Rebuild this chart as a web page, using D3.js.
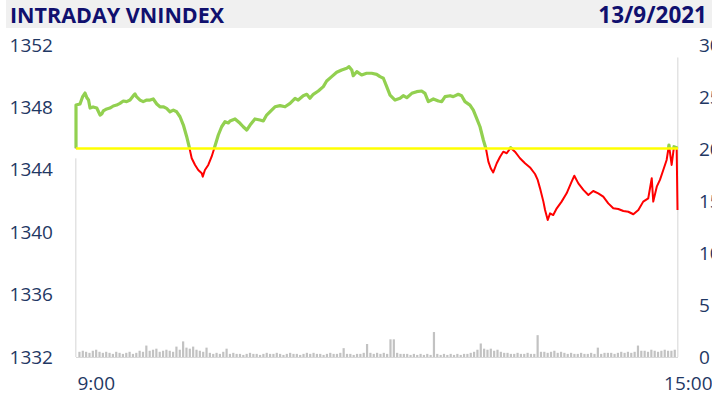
<!DOCTYPE html>
<html>
<head>
<meta charset="utf-8">
<script src="https://cdn.jsdelivr.net/npm/d3@7"></script>
<style>
  body { margin: 0; background: #fff; }
</style>
</head>
<body>
<div id="chart"></div>
<script>
var width = 712;
var height = 401;

var titleText = "INTRADAY VNINDEX";
var dateText = "13/9/2021";
var refClose = 1345.37;

var priceTicks = [1332, 1336, 1340, 1344, 1348, 1352];
var volTicks = [0, 5, 10, 15, 20, 25, 30];
var timeTicks = [0, 360];
var timeLabels = ["9:00", "15:00"];

// minutes after 9:00 on the chart axis
var tMin = [
  0, 0, 2.4, 3.9, 5.4, 6.6, 7.5, 8.4, 10.2, 12.4,
  14.4, 15.4, 16.3, 18.4, 20.3, 22.3, 24.3, 26.3, 28.3, 30.3,
  32.3, 34.3, 35.3, 36.3, 38.3, 40.2, 42.3, 44.3, 46.2, 48.3,
  50.2, 52.2, 54.2, 56.2, 58.2, 60.2, 62.2, 64.2, 66.2, 67.8,
  69.2, 71.2, 73.1, 75.2, 75.8, 77.1, 79.1, 81.1, 82.7, 85.1,
  87.1, 89.1, 91.1, 92.1, 95.1, 98.1, 100.0, 102.1, 104.1, 107.0,
  110.0, 112.0, 114.0, 117.0, 119.0, 122.0, 125.0, 128.0, 131.0, 132.9,
  135.9, 138.0, 139.9, 141.9, 144.9, 147.9, 149.9, 152.9, 155.9, 158.9,
  161.9, 163.3, 164.9, 165.8, 167.9, 170.8, 173.8, 176.8, 179.8, 181.8,
  183.8, 185.8, 187.8, 190.8, 193.8, 195.7, 197.8, 200.8, 203.7, 206.7,
  208.7, 210.7, 213.7, 216.7, 218.7, 220.7, 223.7, 225.6, 228.6, 230.6,
  232.6, 235.6, 237.6, 239.6, 241.6, 243.6, 245.2, 246.6, 248.0, 249.5,
  251.6, 253.6, 255.5, 257.6, 259.9, 262.5, 265.5, 268.5, 271.5, 274.5,
  276.1, 277.5, 279.5, 280.5, 282.1, 283.5, 285.4, 287.5, 290.4, 293.4,
  296.4, 298.0, 300.4, 303.4, 306.4, 309.3, 312.3, 315.3, 318.3, 321.3,
  324.3, 327.3, 330.3, 333.3, 336.3, 339.2, 342.2, 344.3, 345.2, 347.3,
  349.2, 351.2, 353.2, 354.6, 356.2, 357.6, 359.2, 359.7
];

var price = [
  1345.37, 1348.15, 1348.22, 1348.67, 1348.92, 1348.60, 1348.47, 1347.96, 1348.03, 1347.96,
  1347.51, 1347.58, 1347.77, 1347.90, 1347.96, 1348.09, 1348.15, 1348.26, 1348.41, 1348.37,
  1348.47, 1348.75, 1348.86, 1348.67, 1348.47, 1348.37, 1348.47, 1348.47, 1348.54, 1348.22,
  1348.04, 1348.04, 1347.94, 1347.72, 1347.83, 1347.72, 1347.40, 1346.87, 1346.12, 1345.42,
  1344.74, 1344.31, 1343.99, 1343.78, 1343.56, 1343.99, 1344.31, 1344.84, 1345.38, 1346.23,
  1346.76, 1347.08, 1347.00, 1347.13, 1347.26, 1346.98, 1346.76, 1346.55, 1346.87, 1347.26,
  1347.19, 1347.13, 1347.51, 1347.83, 1348.04, 1348.11, 1348.04, 1348.26, 1348.58, 1348.47,
  1348.75, 1348.84, 1348.58, 1348.84, 1349.05, 1349.33, 1349.69, 1349.97, 1350.25, 1350.40,
  1350.51, 1350.61, 1350.40, 1350.03, 1350.29, 1350.08, 1350.19, 1350.19, 1350.12, 1349.97,
  1349.87, 1349.33, 1348.79, 1348.47, 1348.58, 1348.75, 1348.62, 1348.90, 1349.01, 1349.05,
  1348.90, 1348.37, 1348.54, 1348.41, 1348.37, 1348.69, 1348.75, 1348.69, 1348.84, 1348.75,
  1348.37, 1348.15, 1347.83, 1347.30, 1346.76, 1345.91, 1345.33, 1344.52, 1344.10, 1343.83,
  1344.42, 1344.84, 1345.16, 1345.06, 1345.42, 1345.16, 1344.74, 1344.42, 1344.15, 1343.73,
  1343.35, 1342.81, 1341.96, 1341.42, 1340.78, 1341.21, 1341.10, 1341.53, 1341.96, 1342.49,
  1343.24, 1343.62, 1343.13, 1342.71, 1342.38, 1342.64, 1342.49, 1342.28, 1341.85, 1341.53,
  1341.49, 1341.36, 1341.31, 1341.15, 1341.42, 1341.96, 1342.17, 1343.46, 1341.96, 1342.92,
  1343.35, 1343.99, 1344.63, 1345.59, 1344.31, 1345.48, 1345.42, 1341.42
];

// volume, one bar every 2 minutes from 0 to 360
var volume = [
  19.1, 0.5, 0.6, 0.5, 0.4, 0.6, 0.7, 0.5, 0.4, 0.5,
  0.4, 0.3, 0.5, 0.4, 0.3, 0.4, 0.5, 0.3, 0.4, 0.6,
  0.5, 1.1, 0.6, 0.7, 0.8, 0.5, 0.6, 0.7, 0.6, 0.5,
  1.0, 0.7, 1.5, 0.9, 0.8, 1.0, 0.7, 0.6, 0.5, 0.9,
  0.4, 0.3, 0.4, 0.3, 0.5, 0.8, 0.3, 0.4, 0.3, 0.3,
  0.2, 0.3, 0.4, 0.3, 0.3, 0.2, 0.3, 0.4, 0.3, 0.3,
  0.4, 0.3, 0.2, 0.3, 0.4, 0.3, 0.3, 0.2, 0.3, 0.4,
  0.3, 0.4, 0.3, 0.3, 0.2, 0.3, 0.4, 0.3, 0.3, 0.4,
  0.85, 0.3, 0.3, 0.2, 0.3, 0.3, 0.4, 1.25, 0.4, 0.3,
  0.4, 0.3, 0.4, 0.3, 1.7, 1.7, 0.4, 0.3, 0.3, 0.3,
  0.2, 0.3, 0.2, 0.3, 0.2, 0.3, 0.2, 2.4, 0.3, 0.2,
  0.3, 0.2, 0.3, 0.2, 0.3, 0.2, 0.3, 0.3, 0.4, 0.5,
  0.7, 1.3, 0.8, 0.7, 0.8, 0.6, 0.7, 0.5, 0.4, 0.4,
  0.3, 0.3, 0.4, 0.3, 0.3, 0.4, 0.3, 0.3, 2.1, 0.5,
  0.5, 0.4, 0.5, 0.6, 0.4, 0.5, 0.4, 0.3, 0.4, 0.3,
  0.3, 0.4, 0.3, 0.3, 0.4, 0.3, 0.9, 0.3, 0.4, 0.4,
  0.4, 0.3, 0.4, 0.5, 0.4, 0.5, 0.4, 0.5, 1.1, 0.6,
  0.6, 0.5, 0.7, 0.6, 0.5, 0.6, 0.7, 0.6, 0.6, 0.7,
  28.8
];

var labelFont = "'Open Sans', sans-serif";
var navy = "#10106e";
var axisBlue = "#1f3864";

var svg = d3.select("#chart")
    .append("svg")
    .attr("width", width)
    .attr("height", height)

var x = d3.scaleLinear().domain([0, 360]).range([76, 678]);
var y = d3.scaleLinear().domain([1332, 1352]).range([357, 45]);
var yv = d3.scaleLinear().domain([0, 30]).range([357, 45]);

//----------------------------- title band

svg.append("rect")
    .attr("x", 6)
    .attr("y", 0)
    .attr("width", width - 6)
    .attr("height", 28)
    .attr("fill", "#f0f0f0")

svg.append("text")
    .attr("x", 10)
    .attr("y", 23)
    .text(titleText)
    .attr("font-family", labelFont)
    .attr("font-weight", "bold")
    .attr("font-size", 21.5)
    .style("fill", navy)

svg.append("text")
    .attr("x", 707)
    .attr("y", 23)
    .attr("text-anchor", "end")
    .text(dateText)
    .attr("font-family", labelFont)
    .attr("font-weight", "bold")
    .attr("font-size", 22.5)
    .style("fill", navy)

//----------------------------- volume bars

var vol = svg.append("g")

vol.selectAll("rect")
    .data(volume)
    .enter()
    .append("rect")
    .attr("x", function (d, i) { return x(i * 2) - 1; })
    .attr("y", function (d) { return yv(d); })
    .attr("width", function (d) { return d > 10 ? 1.5 : 2.2; })
    .attr("height", function (d) { return yv(0) - yv(d); })
    .attr("fill", function (d) { return d > 10 ? "#e3e3e3" : "#c2c2c2"; })

vol.append("line")
    .attr("x1", x(0))
    .attr("x2", x(360))
    .attr("y1", yv(0) + 0.5)
    .attr("y2", yv(0) + 0.5)
    .attr("stroke", "#d9d9d9")
    .attr("stroke-width", 1)

//----------------------------- price line, green above / red below close

var defs = svg.append("defs")

defs.append("clipPath").attr("id", "above")
    .append("rect")
    .attr("x", 0).attr("y", 0)
    .attr("width", width).attr("height", y(refClose))

defs.append("clipPath").attr("id", "below")
    .append("rect")
    .attr("x", 0).attr("y", y(refClose))
    .attr("width", width).attr("height", height - y(refClose))

var pts = tMin.map(function (t, i) { return [t, price[i]]; });

var line = d3.line()
    .x(function (d) { return x(d[0]); })
    .y(function (d) { return y(d[1]); });

svg.append("path")
    .attr("d", line(pts))
    .attr("clip-path", "url(#above)")
    .attr("fill", "none")
    .attr("stroke", "#92d050")
    .attr("stroke-width", 3.2)
    .attr("stroke-linejoin", "round")

svg.append("path")
    .attr("d", line(pts))
    .attr("clip-path", "url(#below)")
    .attr("fill", "none")
    .attr("stroke", "#ff0000")
    .attr("stroke-width", 2)
    .attr("stroke-linejoin", "round")

svg.append("line")
    .attr("x1", x(0))
    .attr("x2", x(360))
    .attr("y1", y(refClose))
    .attr("y2", y(refClose))
    .attr("stroke", "#ffff00")
    .attr("stroke-width", 2.5)

//----------------------------- axes

var gl = svg.append("g")
    .attr("transform", "translate(53,0)")
    .call(d3.axisLeft(y).tickValues(priceTicks).tickFormat(d3.format("d")).tickSize(0).tickPadding(0))

var gr = svg.append("g")
    .attr("transform", "translate(699,0)")
    .call(d3.axisRight(yv).tickValues(volTicks).tickSize(0).tickPadding(0))

var gb = svg.append("g")
    .attr("transform", "translate(0,376)")
    .call(d3.axisBottom(x).tickValues(timeTicks)
        .tickFormat(function (d, i) { return timeLabels[i]; })
        .tickSize(0).tickPadding(0))

gb.selectAll("text")
    .attr("text-anchor", function (d, i) { return i == 0 ? "start" : "end"; })
    .attr("dx", function (d, i) { return i == 0 ? 1 : width - x(360); })

;[gl, gr, gb].forEach(function (g) {
    g.select(".domain").remove();
    g.selectAll("text")
        .attr("font-family", labelFont)
        .attr("font-size", 19)
        .style("fill", axisBlue);
});
</script>
</body>
</html>
